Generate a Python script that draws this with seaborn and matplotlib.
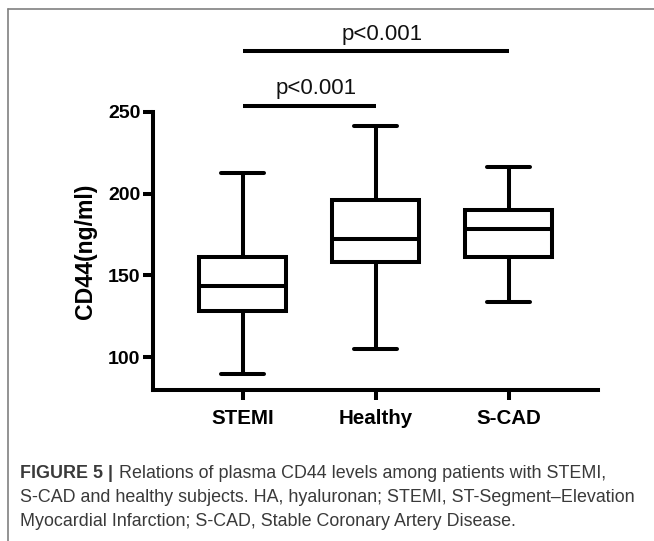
import numpy as np
import pandas as pd
import matplotlib
matplotlib.use("Agg")
import matplotlib.pyplot as plt
import seaborn as sns
from matplotlib.lines import Line2D

# ── data (min, Q1, median, Q3, max) ───────────────────────────────────────────
groups   = ["STEMI", "Healthy", "S-CAD"]
stemi    = [90.0, 128.0, 143.5, 161.5, 212.5]
healthy  = [105.0, 158.0, 172.0, 196.0, 241.0]
scad     = [133.5, 161.0, 178.5, 190.0, 216.5]
y_ticks  = [100, 150, 200, 250]

comparisons = [("STEMI", "Healthy"), ("STEMI", "S-CAD")]
p_labels    = ["p<0.001", "p<0.001"]
bar_levels  = [253.5, 287.0]

caption_bold = "FIGURE 5 |"
caption_rest = [
    " Relations of plasma CD44 levels among patients with STEMI,",
    "S-CAD and healthy subjects. HA, hyaluronan; STEMI, ST-Segment\u2013Elevation",
    "Myocardial Infarction; S-CAD, Stable Coronary Artery Disease.",
]

df = pd.DataFrame({
    "group": np.repeat(groups, 5),
    "value": stemi + healthy + scad,
})

sns.set_style("white")
plt.rcParams["font.family"] = ["Liberation Sans", "DejaVu Sans"]

fig = plt.figure(figsize=(6.54, 5.41), dpi=100)
ax = fig.add_axes([0.2347, 0.279, 0.914 - 0.2347, 0.7935 - 0.279])

lw = 2.9
sns.boxplot(data=df, x="group", y="value", order=groups, whis=(0, 100),
            width=0.65, color="white", linecolor="black", linewidth=lw,
            showfliers=False, ax=ax)

ax.set_xlim(-0.67, 2.67)
ax.set_ylim(80, 250)
ax.set_yticks(y_ticks)
ax.set_xlabel("")
ax.set_ylabel("CD44(ng/ml)", fontsize=16.6, fontweight="bold", labelpad=8,
              color="black")
for side in ["top", "right"]:
    ax.spines[side].set_visible(False)
for side in ["left", "bottom"]:
    ax.spines[side].set_linewidth(lw)
    ax.spines[side].set_color("black")
ax.tick_params(axis="both", length=7.5, width=lw, color="black",
               direction="out", left=True, bottom=True)
ax.tick_params(axis="y", labelsize=14, pad=2)
ax.tick_params(axis="x", labelsize=14.8, pad=6)
for lab in ax.get_xticklabels() + ax.get_yticklabels():
    lab.set_fontweight("bold")
    lab.set_color("black")

# significance bars
pos = {g: i for i, g in enumerate(groups)}
for (a, b), txt, yl in zip(comparisons, p_labels, bar_levels):
    xa, xb = pos[a], pos[b]
    ax.plot([xa, xb], [yl, yl], color="black", lw=lw, clip_on=False,
            solid_capstyle="butt")
    ax.text((xa + xb) / 2 + 0.05, yl + 4, txt, ha="center", va="bottom",
            fontsize=16, color="#111111", clip_on=False)

# frame around the figure panel (top and left edges)
fx0, fy0 = 7.7 / 654, 1 - 9 / 541
fig.add_artist(Line2D([fx0, 1], [fy0, fy0], color="#808080", lw=1.2,
                      transform=fig.transFigure))
fig.add_artist(Line2D([fx0, fx0], [0, fy0], color="#808080", lw=1.2,
                      transform=fig.transFigure))

# caption, sized so the longest line spans the same width as in the figure
cap_color = "#3a3a3a"
cap_x = 20.5 / 654
line_y = [1 - 473 / 541, 1 - 497 / 541, 1 - 521 / 541]
renderer = fig.canvas.get_renderer()
probe = fig.text(0, 0, caption_rest[1], fontsize=12)
w = probe.get_window_extent(renderer).width
probe.remove()
cap_size = 12 * (633 - 20.5) / w

t0 = fig.text(cap_x, line_y[0], caption_bold, fontsize=cap_size, fontweight="bold",
              color=cap_color, va="center", ha="left")
ax.annotate(caption_rest[0], xy=(1, 0.5), xycoords=t0, va="center", ha="left",
            fontsize=cap_size, color=cap_color)
for txt, yy in zip(caption_rest[1:], line_y[1:]):
    fig.text(cap_x, yy, txt, fontsize=cap_size, color=cap_color, va="center", ha="left")

fig.savefig("out.png", dpi=100)
